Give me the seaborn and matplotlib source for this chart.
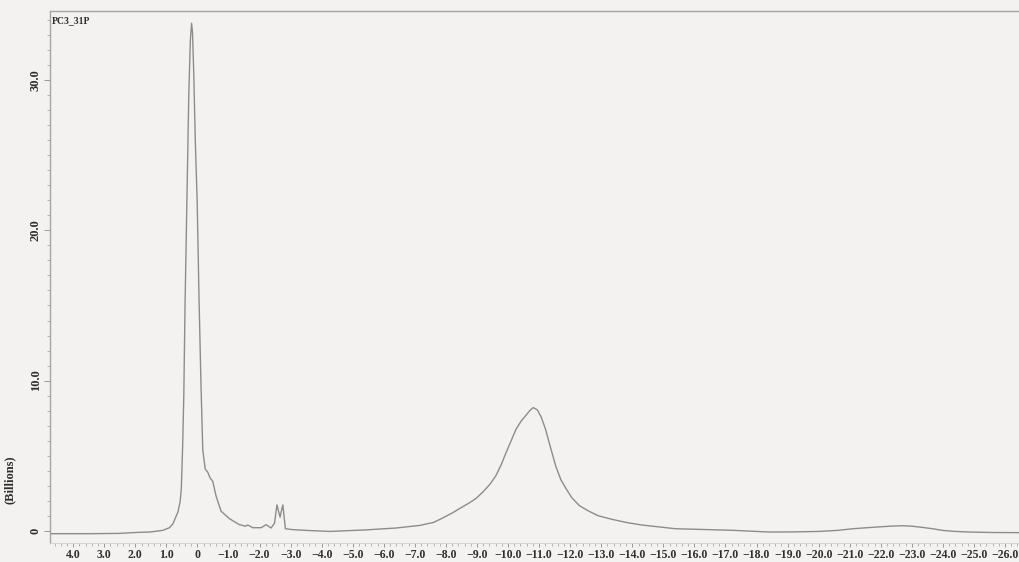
import numpy as np
import pandas as pd
import matplotlib.pyplot as plt
import seaborn as sns
from matplotlib.ticker import MultipleLocator, FixedLocator

# ============================================================
# Data
# ============================================================

ppm = [4.75, 3.5, 2.5, 2.0, 1.54, 1.12, 0.90, 0.79, 0.63, 0.56, 0.52, 0.48, 0.44,
       0.40, 0.34, 0.28, 0.23, 0.19, 0.16, 0.12, 0.07, 0.01, -0.05,
       -0.11, -0.17, -0.25, -0.33, -0.41, -0.49, -0.60, -0.76, -1.03,
       -1.35, -1.55, -1.62, -1.78, -2.05, -2.21, -2.37, -2.48, -2.56,
       -2.61, -2.66, -2.70, -2.75, -2.83, -3.07, -3.5, -4.25, -5.4,
       -6.4, -7.15, -7.6, -7.9, -8.22, -8.5, -8.75, -8.97, -9.2, -9.42,
       -9.61, -9.78, -9.94, -10.1, -10.26, -10.42, -10.58, -10.7, -10.81,
       -10.94, -11.06, -11.2, -11.33, -11.44, -11.54, -11.7, -11.87,
       -12.05, -12.29, -12.6, -12.9, -13.3, -13.8, -14.3, -14.87, -15.4,
       -16.3, -17.3, -18.4, -19.2, -20.0, -20.6, -21.1, -21.5, -21.84,
       -22.3, -22.7, -23.0, -23.34, -23.7, -23.99, -24.4, -24.85, -25.6,
       -26.45]

intensity = [-0.2, -0.2, -0.18, -0.12, -0.09, 0.02, 0.2, 0.46, 1.24, 1.9, 2.8, 5.4, 9.0,
             15.0, 22.0, 29.0, 32.6, 33.8, 33.2, 30.5, 26.0, 22.0, 15.5,
             10.0, 5.4, 4.1, 3.9, 3.5, 3.3, 2.3, 1.3, 0.8,
             0.4, 0.3, 0.38, 0.2, 0.2, 0.4, 0.18, 0.5, 1.72,
             1.3, 0.9, 1.3, 1.72, 0.13, 0.07, 0.02, -0.05, 0.05,
             0.18, 0.35, 0.55, 0.85, 1.2, 1.55, 1.85, 2.15, 2.6, 3.1,
             3.67, 4.4, 5.22, 6.0, 6.77, 7.3, 7.7, 8.0, 8.2,
             8.05, 7.6, 6.8, 5.82, 5.0, 4.27, 3.4, 2.79,
             2.2, 1.68, 1.3, 1.0, 0.78, 0.55, 0.38, 0.25, 0.13,
             0.08, 0.02, -0.09, -0.08, -0.05, 0.02, 0.13, 0.19, 0.24,
             0.3, 0.33, 0.3, 0.22, 0.12, 0.02, -0.05, -0.09, -0.12,
             -0.13]

x_ticks = [4.0 - i for i in range(31)]
x_labels = ['0' if v == 0 else f'{v:.1f}'.replace('-', '\u2212') for v in x_ticks]
y_ticks = [0, 10, 20, 30]
y_labels = ['0', '10.0', '20.0', '30.0']

df = pd.DataFrame({'ppm': ppm, 'intensity': intensity})

# ============================================================
# Plot
# ============================================================

sns.set_theme(style='ticks')
plt.rcParams['font.family'] = ['Liberation Serif', 'DejaVu Serif']

paper = '#f3f2f0'
ink = '#2e2e2e'

fig = plt.figure(figsize=(10.19, 5.62), dpi=100, facecolor=paper)
ax = fig.add_axes([0.049, 0.033, 0.951, 0.947], facecolor=paper)

sns.lineplot(data=df, x='ppm', y='intensity', sort=False, estimator=None,
             color='#8c8c8c', linewidth=1.0, ax=ax)

ax.set_xlim(4.75, -26.45)
ax.set_ylim(-0.85, 34.6)

ax.xaxis.set_major_locator(FixedLocator(x_ticks))
ax.set_xticklabels(x_labels, fontsize=8.5, fontweight='bold', color=ink)
ax.xaxis.set_minor_locator(MultipleLocator(0.2))
ax.yaxis.set_major_locator(FixedLocator(y_ticks))
ax.set_yticklabels(y_labels, fontsize=9, fontweight='bold', color=ink,
                   rotation=90, va='center')
ax.yaxis.set_minor_locator(MultipleLocator(1.0))

ax.tick_params(axis='x', which='major', length=3, width=0.7, color='#999999', pad=1)
ax.tick_params(axis='y', which='major', length=4, width=0.7, color='#999999', pad=2)
ax.tick_params(axis='both', which='minor', length=2.5, width=0.6, color='#aaaaaa')

ax.set_xlabel('')
ax.set_ylabel('(Billions)', fontsize=9, fontweight='bold', color=ink)
ax.yaxis.set_label_coords(-0.035, 0.12)

for side in ['top', 'left']:
    ax.spines[side].set_color('#a5a5a5')
    ax.spines[side].set_linewidth(1.0)
ax.spines['bottom'].set_color('#d0d0d0')
ax.spines['bottom'].set_linewidth(0.6)
ax.spines['right'].set_visible(False)

ax.text(0.002, 0.99, 'PC3_31P', transform=ax.transAxes, fontsize=7,
        fontweight='bold', color=ink, ha='left', va='top')

fig.savefig('out.png', dpi=100, facecolor=paper)
